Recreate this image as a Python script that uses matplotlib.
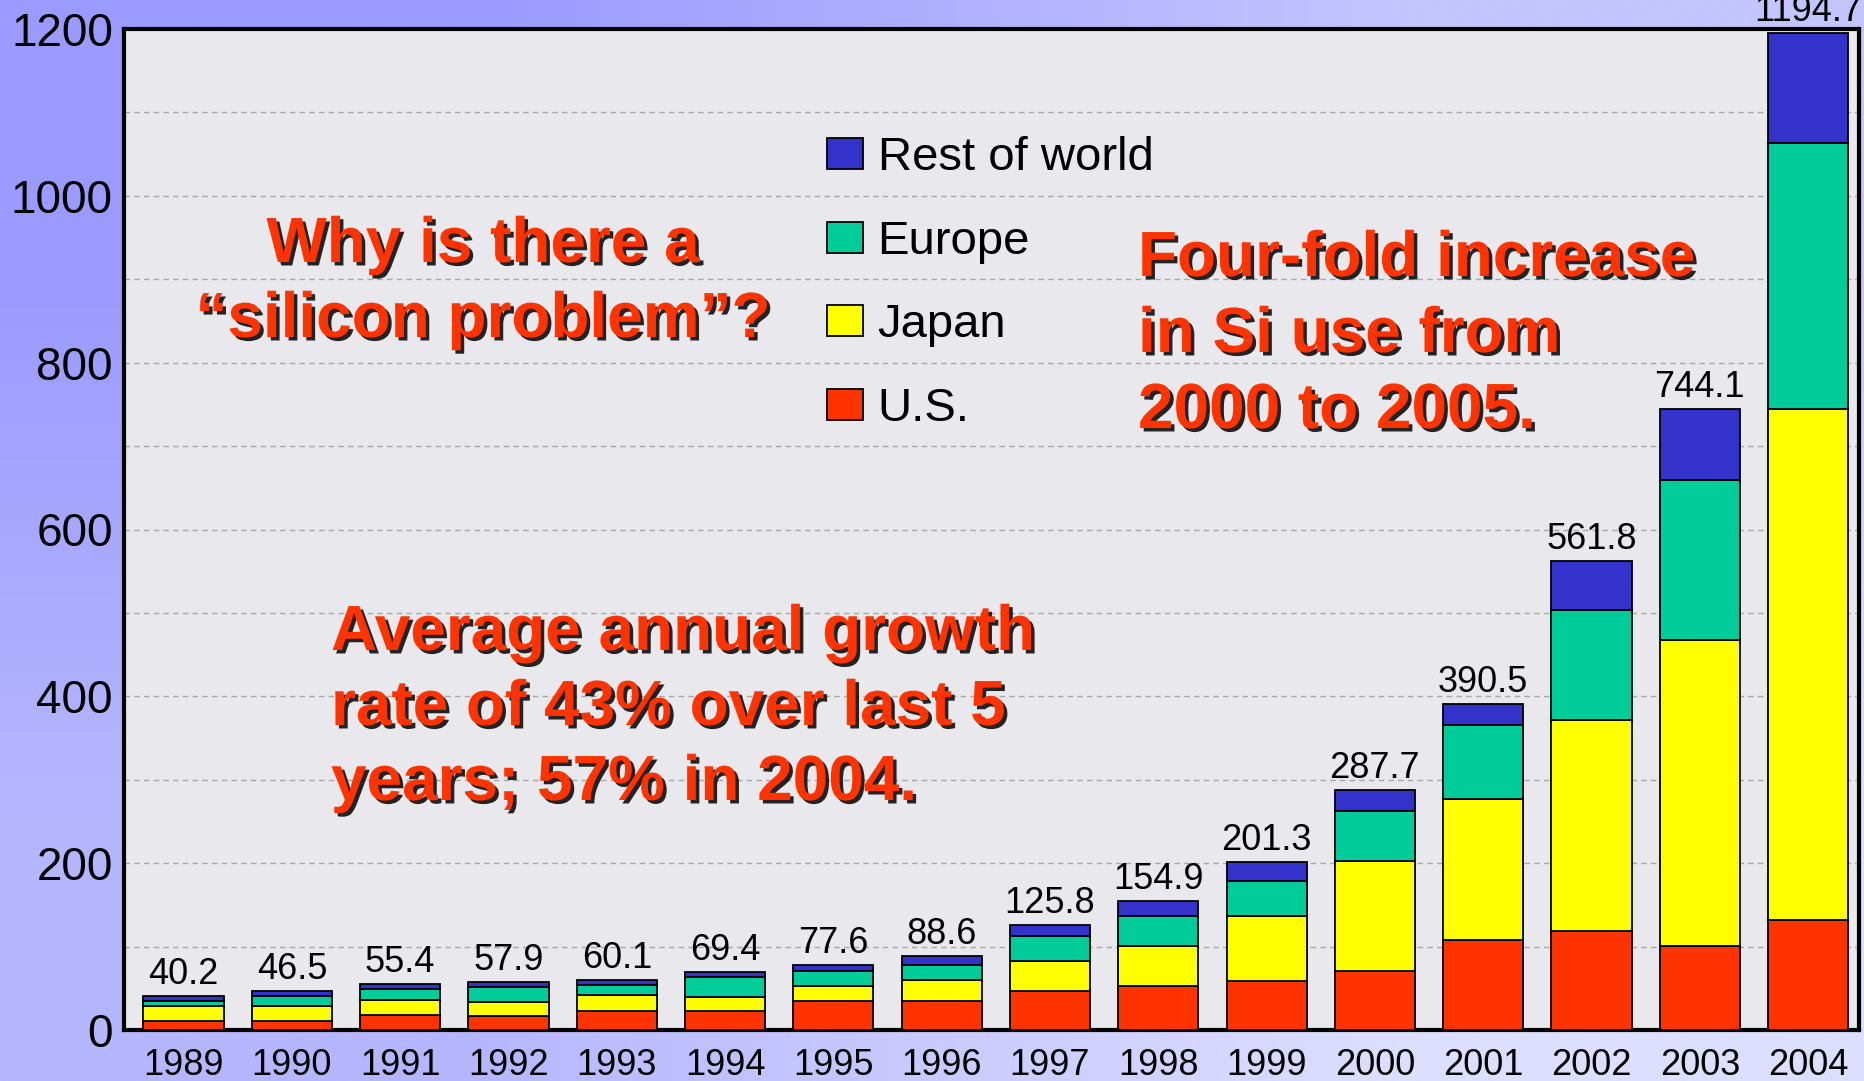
import matplotlib
matplotlib.use('Agg')
import matplotlib.pyplot as plt
import matplotlib.patheffects as pe
from matplotlib.colors import to_rgb
import numpy as np

plt.rcParams['font.family'] = ['Liberation Sans', 'DejaVu Sans']

# Silicon use by region (stacked), with yearly totals
years = ['1989', '1990', '1991', '1992', '1993', '1994', '1995', '1996',
         '1997', '1998', '1999', '2000', '2001', '2002', '2003', '2004']
us = [10.7, 10.7, 17.5, 16.4, 23.2, 22.2, 35.0, 35.0,
      47.0, 53.0, 59.0, 71.0, 107.6, 119.0, 101.0, 132.0]
japan = [17.9, 17.9, 18.8, 17.6, 18.3, 17.6, 18.0, 24.4,
         36.0, 47.6, 78.0, 132.0, 168.8, 253.0, 367.0, 612.0]
europe = [5.9, 11.9, 12.9, 18.0, 12.5, 23.7, 18.0, 18.0,
          30.0, 36.0, 42.0, 60.0, 89.8, 131.6, 191.5, 319.0]
rest_of_world = [5.7, 6.0, 6.2, 5.9, 6.1, 5.9, 6.6, 11.2,
                 12.8, 18.3, 22.3, 24.7, 24.3, 58.2, 84.6, 131.7]
totals = [40.2, 46.5, 55.4, 57.9, 60.1, 69.4, 77.6, 88.6,
          125.8, 154.9, 201.3, 287.7, 390.5, 561.8, 744.1, 1194.7]

W, H = 1865, 1081
fig = plt.figure(figsize=(W / 100, H / 100), dpi=100)

# periwinkle backdrop, darker in the top-left corner
bg = fig.add_axes([0, 0, 1, 1], zorder=-10)
corners = np.array([[to_rgb('#9a9aff'), to_rgb('#c4c4ff')],
                    [to_rgb('#b6b6ff'), to_rgb('#dedeff')]])
bg.imshow(corners, extent=[0, 1, 0, 1], aspect='auto',
          interpolation='bilinear', origin='upper')
bg.axis('off')

ax = fig.add_axes([124 / W, 1 - 1030 / H, (1859 - 124) / W, (1030 - 29) / H])
ax.set_facecolor('#e8e8ed')

x = np.arange(len(years))
bottom = np.zeros(len(years))
series = [(us, '#ff3300', 'U.S.'),
          (japan, '#ffff00', 'Japan'),
          (europe, '#00cc99', 'Europe'),
          (rest_of_world, '#3333cc', 'Rest of world')]
for values, color, label in series:
    ax.bar(x, values, 0.74, bottom=bottom, color=color, edgecolor='black',
           linewidth=1.3, label=label, zorder=3)
    bottom += np.array(values)

for xi, total in zip(x, totals):
    ax.annotate(f'{total:.1f}', (xi, total), xytext=(0, 3),
                textcoords='offset points', ha='center', va='bottom',
                fontsize=26, annotation_clip=False)

ax.set_xlim(-0.55, 15.47)
ax.set_ylim(0, 1200)
ax.set_xticks(x, years)
ax.set_yticks(range(0, 1201, 200))
ax.set_yticks(range(100, 1200, 200), minor=True)
ax.yaxis.grid(True, which='both', linestyle=(0, (4, 3)), color='#a8a8a8',
              linewidth=1)
ax.set_axisbelow(True)
ax.tick_params(which='both', length=0)
ax.tick_params(axis='y', labelsize=33, pad=8)
ax.tick_params(axis='x', labelsize=26, pad=13)
for spine in ax.spines.values():
    spine.set_linewidth(3)

handles, labels = ax.get_legend_handles_labels()
ax.legend(handles[::-1], labels[::-1], loc='upper left',
          bbox_to_anchor=(827 / W, 1 - 136 / H), bbox_transform=fig.transFigure,
          frameon=False, fontsize=34, handlelength=0.77, handleheight=0.63,
          handletextpad=0.3, labelspacing=0.84, borderpad=0, borderaxespad=0)

shadow = [pe.withSimplePatchShadow(offset=(2.5, -2.5), shadow_rgbFace='black',
                                   alpha=0.85)]


def callout(lines, x0, baseline0, step, ha='left'):
    for i, line in enumerate(lines):
        fig.text(x0 / W, 1 - (baseline0 + i * step) / H, line, ha=ha,
                 va='baseline', fontsize=46, fontweight='bold',
                 color='#ff3300', path_effects=shadow)


callout(['Why is there a', '\u201csilicon problem\u201d?'], 483, 262, 75, ha='center')
callout(['Four-fold increase', 'in Si use from', '2000 to 2005.'], 1138, 276, 76)
callout(['Average annual growth', 'rate of 43% over last 5',
         'years; 57% in 2004.'], 331, 650, 75)

fig.savefig('out.png', dpi=100)
